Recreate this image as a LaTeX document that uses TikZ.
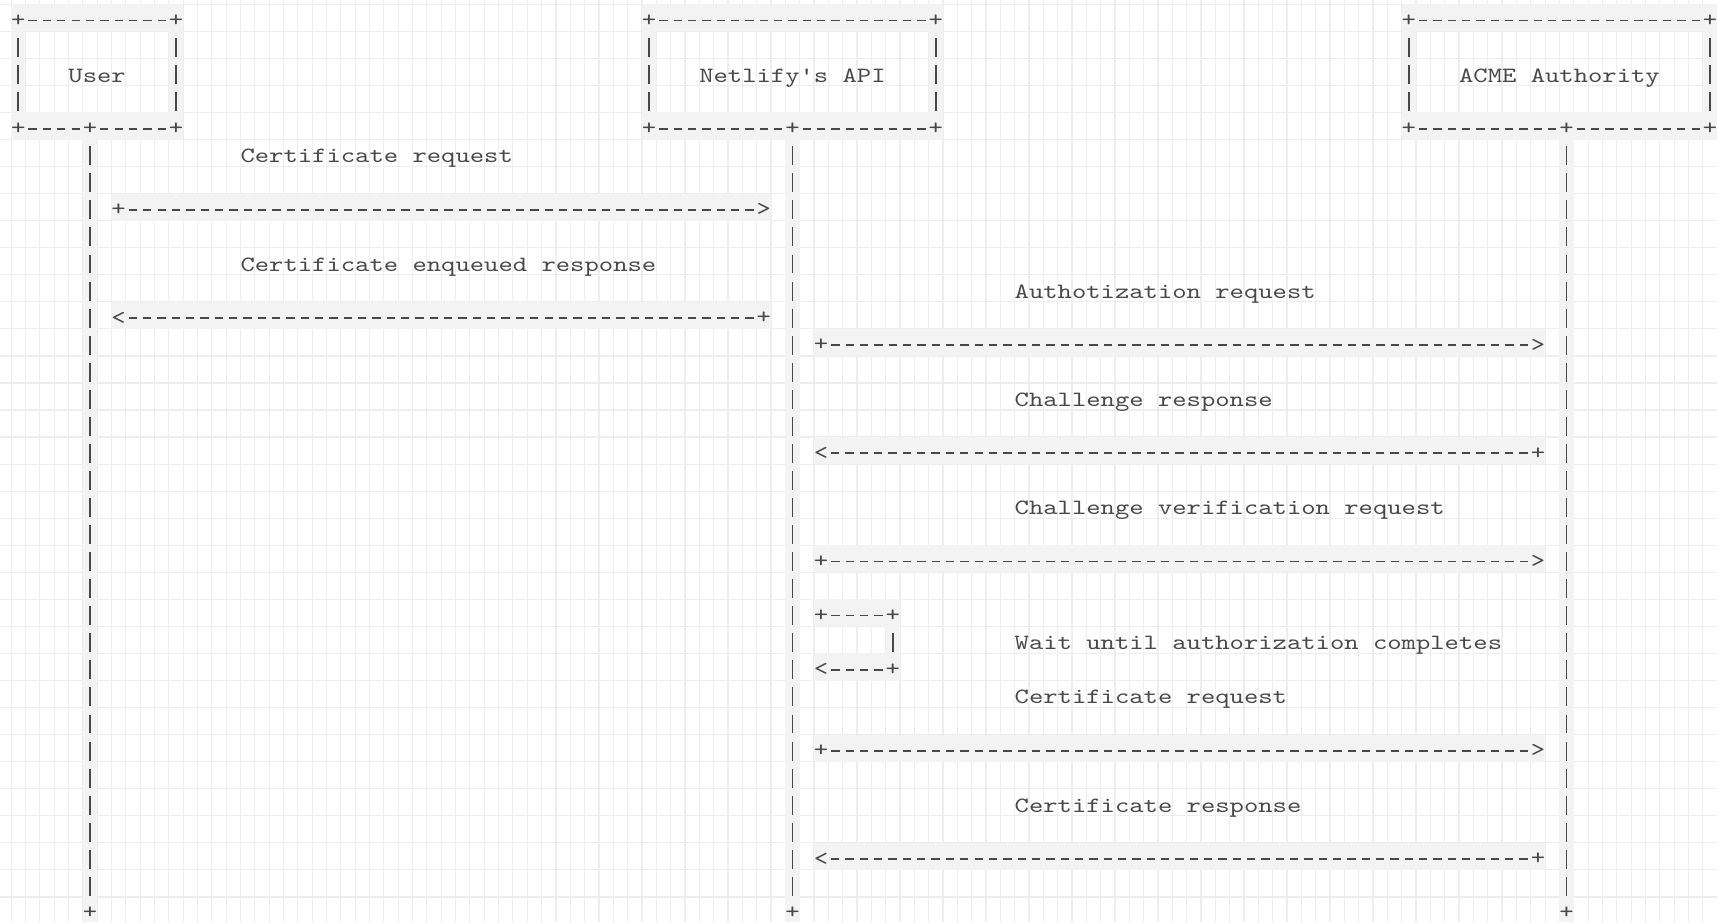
\documentclass[tikz,border=0pt]{standalone}
\usepackage{tikz}
\usepackage{graphicx}
\definecolor{inkgray}{RGB}{72,72,72}
\definecolor{gridgray}{RGB}{238,238,238}
\definecolor{hlgray}{RGB}{243,243,243}
\newcommand{\monof}{\ttfamily\fontsize{10.9}{13}\selectfont}
\newcommand{\ascw}[1]{\scalebox{1.2526}[1]{#1}}

\begin{document}
\begin{tikzpicture}[x=0.5pt,y=0.5pt,yscale=-1,
    gridln/.style={draw=gridgray, line width=0.6pt},
    hl/.style={fill=hlgray},
    glyph/.style={inner sep=0pt, outer sep=0pt, minimum width=10.18pt, minimum height=17.58pt, text=inkgray, font=\monof},
    lbl/.style={anchor=mid west, inner sep=0pt, outer sep=0pt, text=inkgray, font=\monof},
    hdash/.style={draw=inkgray, line width=0.85pt, dash pattern=on 4.16pt off 3.01pt},
    vdash/.style={draw=inkgray, line width=0.85pt, dash pattern=on 9.47pt off 4.06pt}]
        \useasboundingbox (0,0) rectangle (1717,922);
        \fill[white] (0,0) rectangle (1717,922);
        \foreach \i in {0,...,118} \draw[gridln] ({11.13+14.336*\i},0) -- ({11.13+14.336*\i},922);
        \foreach \j in {0,...,33} \draw[gridln] (0,{4.25+27.05*\j}) -- (1717,{4.25+27.05*\j});

        \fill[hl] (11.13,4.25) rectangle (183.16,31.3);
        \fill[hl] (11.13,112.45) rectangle (183.16,139.5);
        \fill[hl] (11.13,31.3) rectangle (25.47,112.45);
        \fill[hl] (168.83,31.3) rectangle (183.16,112.45);
        \fill[hl] (82.81,139.5) rectangle (97.15,922);
        \fill[hl] (641.91,4.25) rectangle (942.97,31.3);
        \fill[hl] (641.91,112.45) rectangle (942.97,139.5);
        \fill[hl] (641.91,31.3) rectangle (656.25,112.45);
        \fill[hl] (928.63,31.3) rectangle (942.97,112.45);
        \fill[hl] (785.27,139.5) rectangle (799.61,922);
        \fill[hl] (1401.72,4.25) rectangle (1717,31.3);
        \fill[hl] (1401.72,112.45) rectangle (1717,139.5);
        \fill[hl] (1401.72,31.3) rectangle (1416.06,112.45);
        \fill[hl] (1702.78,31.3) rectangle (1717,112.45);
        \fill[hl] (1559.42,139.5) rectangle (1573.75,922);
        \fill[hl] (111.48,193.6) rectangle (770.94,220.65);
        \fill[hl] (111.48,301.8) rectangle (770.94,328.85);
        \fill[hl] (813.95,328.85) rectangle (1545.08,355.9);
        \fill[hl] (813.95,437.05) rectangle (1545.08,464.1);
        \fill[hl] (813.95,545.25) rectangle (1545.08,572.3);
        \fill[hl] (813.95,599.35) rectangle (899.96,626.4);
        \fill[hl] (885.63,626.4) rectangle (899.96,653.45);
        \fill[hl] (813.95,653.45) rectangle (899.96,680.5);
        \fill[hl] (813.95,734.6) rectangle (1545.08,761.65);
        \fill[hl] (813.95,842.8) rectangle (1545.08,869.85);

        \node[glyph] (u1) at (18.3,20.5) {\ascw{+}};
        \node[glyph] (u2) at (176.0,20.5) {\ascw{+}};
        \node[glyph] (u3) at (18.3,128.7) {\ascw{+}};
        \node[glyph] (u4) at (89.98,128.7) {\ascw{+}};
        \node[glyph] (u5) at (176.0,128.7) {\ascw{+}};
        \node[glyph] (u6) at (89.98,913.15) {\ascw{+}};
        \node[glyph] (n1) at (649.08,20.5) {\ascw{+}};
        \node[glyph] (n2) at (935.8,20.5) {\ascw{+}};
        \node[glyph] (n3) at (649.08,128.7) {\ascw{+}};
        \node[glyph] (n4) at (792.44,128.7) {\ascw{+}};
        \node[glyph] (n5) at (935.8,128.7) {\ascw{+}};
        \node[glyph] (n6) at (792.44,913.15) {\ascw{+}};
        \node[glyph] (a1) at (1408.89,20.5) {\ascw{+}};
        \node[glyph] (a2) at (1709.95,20.5) {\ascw{+}};
        \node[glyph] (a3) at (1408.89,128.7) {\ascw{+}};
        \node[glyph] (a4) at (1566.59,128.7) {\ascw{+}};
        \node[glyph] (a5) at (1709.95,128.7) {\ascw{+}};
        \node[glyph] (a6) at (1566.59,913.15) {\ascw{+}};

        \node[lbl] (user) at (68.48,77.9) {\ascw{User}};
        \node[lbl] (api) at (699.26,77.9) {\ascw{Netlify\textquotesingle s API}};
        \node[lbl] (acme) at (1459.07,77.9) {\ascw{ACME Authority}};

        \draw[hdash] (u1) -- (u2);
        \draw[vdash] (u1) -- (u3);
        \draw[vdash] (u2) -- (u5);
        \draw[hdash] (u3) -- (u4);
        \draw[hdash] (u4) -- (u5);
        \draw[vdash] (u4) -- (u6);
        \draw[hdash] (n1) -- (n2);
        \draw[vdash] (n1) -- (n3);
        \draw[vdash] (n2) -- (n5);
        \draw[hdash] (n3) -- (n4);
        \draw[hdash] (n4) -- (n5);
        \draw[vdash] (n4) -- (n6);
        \draw[hdash] (a1) -- (a2);
        \draw[vdash] (a1) -- (a3);
        \draw[vdash] (a2) -- (a5);
        \draw[hdash] (a3) -- (a4);
        \draw[hdash] (a4) -- (a5);
        \draw[vdash] (a4) -- (a6);

        \node[glyph] (m1a) at (118.65,209.85) {\ascw{+}};
        \node[glyph] (m1b) at (763.77,209.85) {\ascw{>}};
        \node[glyph] (m2a) at (118.65,318.05) {\ascw{<}};
        \node[glyph] (m2b) at (763.77,318.05) {\ascw{+}};
        \node[glyph] (m3a) at (821.12,345.1) {\ascw{+}};
        \node[glyph] (m3b) at (1537.92,345.1) {\ascw{>}};
        \node[glyph] (m4a) at (821.12,453.3) {\ascw{<}};
        \node[glyph] (m4b) at (1537.92,453.3) {\ascw{+}};
        \node[glyph] (m5a) at (821.12,561.5) {\ascw{+}};
        \node[glyph] (m5b) at (1537.92,561.5) {\ascw{>}};
        \node[glyph] (w1) at (821.12,615.6) {\ascw{+}};
        \node[glyph] (w2) at (892.8,615.6) {\ascw{+}};
        \node[glyph] (w3) at (892.8,669.7) {\ascw{+}};
        \node[glyph] (w4) at (821.12,669.7) {\ascw{<}};
        \node[glyph] (m6a) at (821.12,750.85) {\ascw{+}};
        \node[glyph] (m6b) at (1537.92,750.85) {\ascw{>}};
        \node[glyph] (m7a) at (821.12,859.05) {\ascw{<}};
        \node[glyph] (m7b) at (1537.92,859.05) {\ascw{+}};

        \draw[hdash] (m1a) -- (m1b);
        \draw[hdash] (m2b) -- (m2a);
        \draw[hdash] (m3a) -- (m3b);
        \draw[hdash] (m4b) -- (m4a);
        \draw[hdash] (m5a) -- (m5b);
        \draw[hdash] (w1) -- (w2);
        \draw[vdash] (w2) -- (w3);
        \draw[hdash] (w3) -- (w4);
        \draw[hdash] (m6a) -- (m6b);
        \draw[hdash] (m7b) -- (m7a);

        \node[lbl] (t1) at (240.51,158.6) {\ascw{Certificate request}};
        \node[lbl] (t2) at (240.51,266.8) {\ascw{Certificate enqueued response}};
        \node[lbl] (t3) at (1014.65,293.9) {\ascw{Authotization request}};
        \node[lbl] (t4) at (1014.65,402.1) {\ascw{Challenge response}};
        \node[lbl] (t5) at (1014.65,510.3) {\ascw{Challenge verification request}};
        \node[lbl] (t6) at (1014.65,645.5) {\ascw{Wait until authorization completes}};
        \node[lbl] (t7) at (1014.65,699.6) {\ascw{Certificate request}};
        \node[lbl] (t8) at (1014.65,807.8) {\ascw{Certificate response}};
    \end{tikzpicture}
\end{document}
